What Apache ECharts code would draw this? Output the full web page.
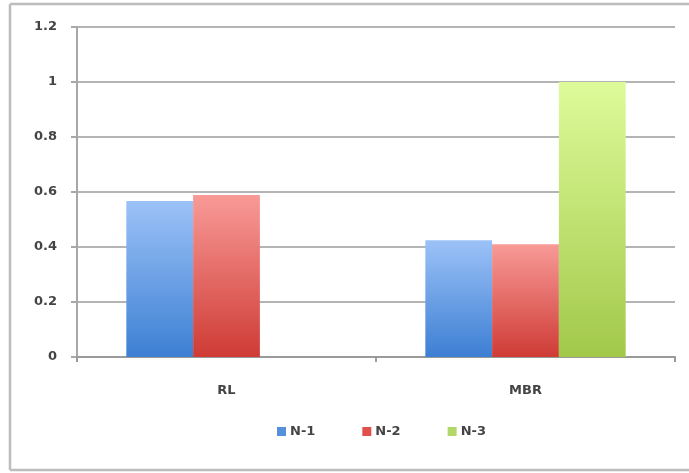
<!DOCTYPE html>
<html>
<head>
<meta charset="utf-8">
<script src="https://cdn.jsdelivr.net/npm/echarts@6/dist/echarts.min.js"></script>
<style>
  html, body { margin: 0; padding: 0; background: #fff; overflow: hidden; }
  #chart { width: 689px; height: 473px; }
</style>
</head>
<body>
<div id="chart"></div>
<script>
// Categories and series values
const categories = ['RL', 'MBR'];
const seriesNames = ['N-1', 'N-2', 'N-3'];
const valuesN1 = [0.567, 0.425];
const valuesN2 = [0.589, 0.41];
const valuesN3 = [null, 1.0];
const yTicks = [0, 0.2, 0.4, 0.6, 0.8, 1, 1.2];

// Top/bottom colours of the vertical gradient fill per series
const palette = [
  { top: '#9cc2f7', bottom: '#3d7fd3', solid: '#5590dc' },
  { top: '#f89a97', bottom: '#cf3b35', solid: '#e0514b' },
  { top: '#defb9a', bottom: '#a2c84a', solid: '#b2d86a' }
];
const seriesValues = [valuesN1, valuesN2, valuesN3];

const chart = echarts.init(document.getElementById('chart'), null, { renderer: 'canvas' });

const fontFamily = '"DejaVu Sans", "Liberation Sans", sans-serif';
const textColor = '#444';

chart.setOption({
  animation: false,
  backgroundColor: '#fff',
  graphic: [
    // chart frame: left, top and bottom edges only (right edge runs off the page)
    { type: 'line', shape: { x1: 10, y1: 4, x2: 689, y2: 4 }, style: { stroke: '#bdbdbd', lineWidth: 2.5 } },
    { type: 'line', shape: { x1: 10, y1: 4, x2: 10, y2: 470 }, style: { stroke: '#bdbdbd', lineWidth: 2.5 } },
    { type: 'line', shape: { x1: 10, y1: 470, x2: 689, y2: 470 }, style: { stroke: '#bdbdbd', lineWidth: 2.5 } }
  ],
  grid: { left: 77, right: 14, top: 27, bottom: 116 },
  legend: {
    left: 272,
    top: 420,
    itemWidth: 9,
    itemHeight: 9,
    itemGap: 47,
    icon: 'rect',
    textStyle: { fontFamily, fontSize: 13, fontWeight: 'bold', color: textColor, padding: [0, 0, 0, -1] },
    data: seriesNames.map((n, i) => ({ name: n, itemStyle: { color: palette[i].solid } }))
  },
  xAxis: {
    type: 'category',
    data: categories,
    axisLine: { lineStyle: { color: '#9a9a9a', width: 2 } },
    axisTick: { show: true, length: 5, lineStyle: { color: '#9a9a9a', width: 2 } },
    axisLabel: { margin: 27, fontFamily, fontSize: 13, fontWeight: 'bold', color: textColor }
  },
  yAxis: {
    type: 'value',
    min: yTicks[0],
    max: yTicks[yTicks.length - 1],
    interval: 0.2,
    axisLine: { show: true, lineStyle: { color: '#a8a8a8', width: 2 } },
    axisTick: { show: true, length: 6, lineStyle: { color: '#a8a8a8', width: 2 } },
    axisLabel: {
      margin: 20,
      fontFamily, fontSize: 13, fontWeight: 'bold', color: textColor,
      formatter: v => String(parseFloat(v.toFixed(1)))
    },
    splitLine: { lineStyle: { color: '#b4b4b4', width: 2 } }
  },
  series: seriesNames.map((name, i) => ({
    name,
    type: 'bar',
    data: seriesValues[i],
    barGap: '0%',
    barCategoryGap: '33%',
    itemStyle: {
      color: {
        type: 'linear', x: 0, y: 0, x2: 0, y2: 1,
        colorStops: [
          { offset: 0, color: palette[i].top },
          { offset: 1, color: palette[i].bottom }
        ]
      }
    }
  }))
});
</script>
</body>
</html>
